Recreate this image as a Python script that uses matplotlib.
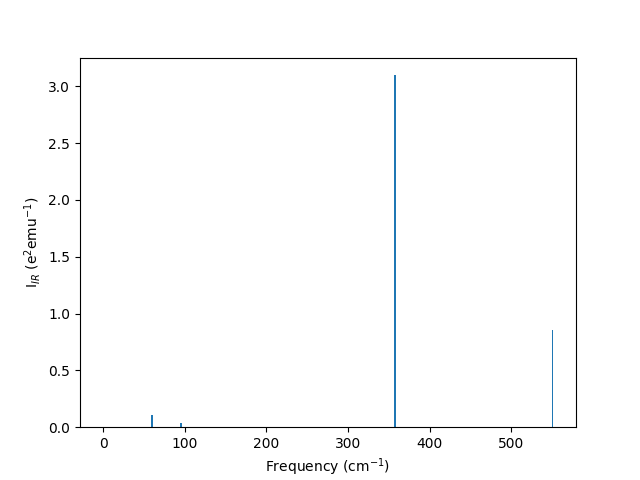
import matplotlib
matplotlib.use("Agg")
import matplotlib.pyplot as plt

frequencies = [0, 60, 95, 357.5, 551]
intensities = [0.0, 0.108, 0.038, 3.098, 0.856]

fig, ax = plt.subplots(figsize=(6.4, 4.8), dpi=100)
ax.bar(frequencies, intensities, width=2.0)
ax.set_xlabel("Frequency (cm$^{-1}$)")
ax.set_ylabel("I$_{IR}$ (e$^2$emu$^{-1}$)")
fig.savefig("out.png")
